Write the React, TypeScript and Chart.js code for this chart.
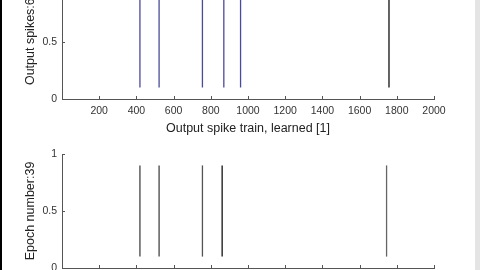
import React, { useEffect, useRef } from "react";
import { Chart, registerables } from "chart.js";
Chart.register(...registerables);

const xTicks = [200, 400, 600, 800, 1000, 1200, 1400, 1600, 1800, 2000];
const yTicks = [0, 0.5, 1];
const learnedSpikes = [419, 522, 755, 870, 960, 1758];
const epochSpikes = [419, 522, 755, 861, 1745];
const spikeLow = 0.1;
const spikeHigh = 0.9;
const topYLabel = "Output spikes:6";
const topXLabel = "Output spike train, learned [1]";
const bottomYLabel = "Epoch number:39";

const topColors = ["#4a4a9a", "#4a4a9a", "#4a4a9a", "#4a4a9a", "#4a4a9a", "#111111"];
const bottomColors = ["#444444", "#444444", "#555555", "#111111", "#666666"];

const FONT = "'Liberation Sans', Arial, Helvetica, sans-serif";

const inwardTicks = {
  id: "inwardTicks",
  afterDraw(chart: any) {
    const ctx = chart.ctx;
    const a = chart.chartArea;
    const xs = chart.scales.x;
    const ys = chart.scales.y;
    ctx.save();
    ctx.strokeStyle = "#555555";
    ctx.lineWidth = 1;
    ctx.beginPath();
    xs.ticks.forEach((t: any) => {
      const px = Math.round(xs.getPixelForValue(t.value)) + 0.5;
      ctx.moveTo(px, a.bottom);
      ctx.lineTo(px, a.bottom - 3);
    });
    ys.ticks.forEach((t: any) => {
      const py = Math.round(ys.getPixelForValue(t.value)) + 0.5;
      ctx.moveTo(a.left, py);
      ctx.lineTo(a.left + 3, py);
    });
    ctx.stroke();
    ctx.restore();
  },
};

function makeConfig(
  spikes: number[],
  colors: string[],
  yLabel: string,
  xLabel: string | null,
  padTop: number,
  xHeight: number
): any {
  const datasets = spikes.map((t, i) => ({
    data: [
      { x: t, y: spikeLow },
      { x: t, y: spikeHigh },
    ],
    borderColor: colors[i],
    borderWidth: 1.3,
    pointRadius: 0,
    fill: false,
  }));
  return {
    type: "line",
    data: { datasets },
    plugins: [inwardTicks],
    options: {
      responsive: false,
      animation: false,
      events: [],
      layout: { padding: { left: 0, right: 46, top: padTop, bottom: 0 } },
      plugins: { legend: { display: false }, tooltip: { enabled: false } },
      scales: {
        x: {
          type: "linear",
          min: 0,
          max: 2000,
          grid: { display: false, drawTicks: false },
          border: { display: true, color: "#555555", width: 1 },
          afterBuildTicks: (s: any) => {
            s.ticks = xTicks.map((v) => ({ value: v }));
          },
          afterFit: (s: any) => {
            s.height = xHeight;
          },
          ticks: {
            autoSkip: false,
            maxRotation: 0,
            padding: 5.4,
            color: "#333333",
            font: { family: FONT, size: 10.5 },
            callback: (v: any) => String(v),
          },
          title: {
            display: !!xLabel,
            text: xLabel || "",
            color: "#222222",
            font: { family: FONT, size: 12.5, lineHeight: 1.1 },
            padding: { top: 0, bottom: 0 },
          },
        },
        y: {
          type: "linear",
          min: 0,
          max: 1,
          grid: { display: false, drawTicks: false },
          border: { display: true, color: "#555555", width: 1 },
          afterBuildTicks: (s: any) => {
            s.ticks = yTicks.map((v) => ({ value: v }));
          },
          afterFit: (s: any) => {
            s.width = 62;
          },
          ticks: {
            padding: 5,
            color: "#333333",
            font: { family: FONT, size: 10.5 },
            callback: (v: any) => String(v),
          },
          title: {
            display: true,
            text: yLabel,
            color: "#222222",
            font: { family: FONT, size: 12.5, lineHeight: 1.2 },
            padding: { top: 23.5, bottom: 0 },
          },
        },
      },
    },
  };
}

export default function App() {
  const topRef = useRef<HTMLCanvasElement>(null);
  const botRef = useRef<HTMLCanvasElement>(null);

  useEffect(() => {
    const c1 = new Chart(
      topRef.current as HTMLCanvasElement,
      makeConfig(learnedSpikes, topColors, topYLabel, topXLabel, 10, 36)
    );
    const c2 = new Chart(
      botRef.current as HTMLCanvasElement,
      makeConfig(epochSpikes, bottomColors, bottomYLabel, null, 19, 37)
    );
    return () => {
      c1.destroy();
      c2.destroy();
    };
  }, []);

  return (
    <div
      style={{
        position: "fixed",
        left: 0,
        top: 0,
        width: 480,
        height: 270,
        overflow: "hidden",
        background: "#ffffff",
      }}
    >
      <canvas
        ref={topRef}
        width={480}
        height={162}
        style={{ position: "absolute", left: 0, top: -27, width: 480, height: 162 }}
      />
      <canvas
        ref={botRef}
        width={480}
        height={170}
        style={{ position: "absolute", left: 0, top: 135, width: 480, height: 170 }}
      />
      <div style={{ position: "absolute", left: 0, top: 0, width: 2, height: 270, background: "#000000" }} />
      <div style={{ position: "absolute", right: 0, top: 0, width: 5, height: 270, background: "#e4e4e4" }} />
    </div>
  );
}
